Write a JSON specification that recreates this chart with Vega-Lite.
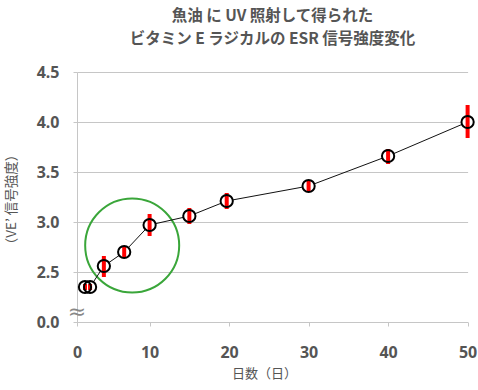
{
  "$schema": "https://vega.github.io/schema/vega-lite/v6.json",
  "width": 391,
  "height": 250,
  "autosize": "none",
  "padding": {"left": 77, "top": 72, "right": 10, "bottom": 68},
  "background": "white",
  "config": {"view": {"stroke": null}, "font": "Noto Sans CJK JP"},
  "title": {
    "text": ["魚油 に UV 照射して得られた", "ビタミン E ラジカルの ESR 信号強度変化"],
    "anchor": "middle",
    "frame": "group",
    "font": "Noto Sans CJK JP",
    "fontSize": 15.5,
    "fontWeight": "bold",
    "color": "#555555",
    "lineHeight": 23,
    "offset": 17
  },
  "datasets": {
    "pts": [
      {"day": 1.1, "value": 2.35, "lo": 2.32, "hi": 2.38},
      {"day": 1.8, "value": 2.35, "lo": 2.32, "hi": 2.38},
      {"day": 3.7, "value": 2.56, "lo": 2.45, "hi": 2.66},
      {"day": 6.5, "value": 2.70, "lo": 2.65, "hi": 2.75},
      {"day": 10, "value": 2.97, "lo": 2.86, "hi": 3.08},
      {"day": 15, "value": 3.06, "lo": 2.98, "hi": 3.14},
      {"day": 19.7, "value": 3.21, "lo": 3.13, "hi": 3.29},
      {"day": 30, "value": 3.36, "lo": 3.31, "hi": 3.42},
      {"day": 40, "value": 3.66, "lo": 3.58, "hi": 3.73},
      {"day": 50, "value": 4.0, "lo": 3.84, "hi": 4.17}
    ],
    "ring": [{"day": 7.6, "value": 2.765}],
    "brk": [{"day": 0, "value": 2.1, "t": "≈"}]
  },
  "encoding": {
    "x": {
      "field": "day", "type": "quantitative",
      "scale": {"domain": [0, 10, 50], "range": [0, 72.6, 390.6], "nice": false, "zero": false},
      "axis": {
        "values": [0, 10, 20, 30, 40, 50],
        "grid": false,
        "labelFlush": false,
        "labelOverlap": false,
        "title": "日数（日）",
        "titleX": 187, "titleY": 51,
        "titleBaseline": "middle",
        "titleFont": "Noto Sans CJK JP",
        "titleFontSize": 13, "titleFontWeight": "normal", "titleColor": "#555555",
        "labelFont": "Noto Sans", "labelFontSize": 16, "labelFontWeight": "bold", "labelColor": "#555555",
        "labelBaseline": "middle", "labelPadding": 26,
        "domainColor": "#c6c6c6", "tickColor": "#c6c6c6", "tickSize": 4
      }
    },
    "y": {
      "field": "value", "type": "quantitative",
      "scale": {"domain": [2.0, 4.5], "nice": false, "zero": false},
      "axis": {
        "values": [2.0, 2.5, 3.0, 3.5, 4.0, 4.5],
        "labelExpr": "datum.value == 2 ? '0.0' : format(datum.value, '.1f')",
        "grid": true, "gridColor": "#c6c6c6",
        "labelFlush": false,
        "labelOverlap": false,
        "title": "（VE’ 信号強度）",
        "titleX": -66, "titleY": 127,
        "titleAngle": -90, "titleAlign": "center", "titleBaseline": "middle",
        "titleFont": "Noto Sans CJK JP",
        "titleFontSize": 13.5, "titleFontWeight": "normal", "titleColor": "#555555",
        "labelFont": "Noto Sans", "labelFontSize": 16, "labelFontWeight": "bold", "labelColor": "#555555",
        "labelPadding": 14,
        "domainColor": "#c6c6c6", "tickColor": "#c6c6c6", "tickSize": 4
      }
    }
  },
  "layer": [
    {
      "data": {"name": "brk"},
      "mark": {"type": "text", "fontSize": 22, "color": "#888888", "font": "DejaVu Sans"},
      "encoding": {"text": {"field": "t"}}
    },
    {
      "data": {"name": "ring"},
      "mark": {"type": "point", "shape": "circle", "filled": false, "stroke": "#3aa63a", "strokeWidth": 2, "size": 8836, "opacity": 1}
    },
    {
      "data": {"name": "pts"},
      "mark": {"type": "line", "color": "#111111", "strokeWidth": 1}
    },
    {
      "data": {"name": "pts"},
      "mark": {"type": "point", "shape": "circle", "filled": true, "fill": "white", "size": 150, "opacity": 1}
    },
    {
      "data": {"name": "pts"},
      "mark": {"type": "rule", "color": "#ff0000", "strokeWidth": 4},
      "encoding": {"y": {"field": "lo", "type": "quantitative"}, "y2": {"field": "hi"}}
    },
    {
      "data": {"name": "pts"},
      "mark": {"type": "point", "shape": "circle", "filled": false, "stroke": "#000000", "strokeWidth": 2, "size": 150, "opacity": 1}
    }
  ]
}
